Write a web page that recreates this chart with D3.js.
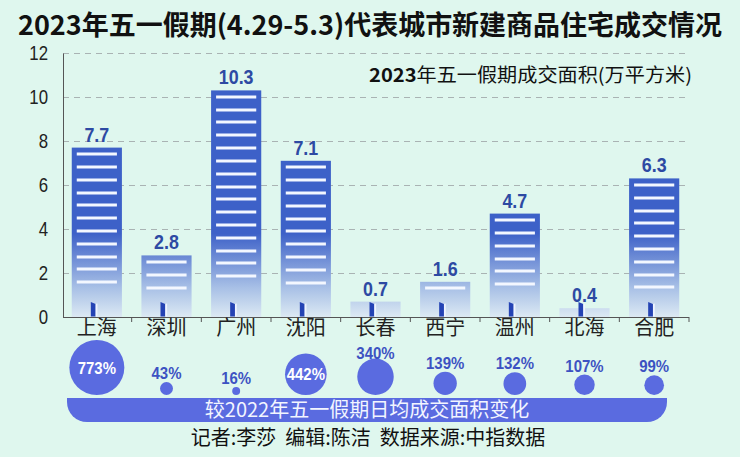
<!DOCTYPE html>
<html><head><meta charset="utf-8">
<script src="https://cdn.jsdelivr.net/npm/d3@7"></script>
<style>
html,body{margin:0;padding:0;background:#dff7ee;}
svg{display:block;}
text{font-family:"Noto Sans CJK SC","Noto Sans",sans-serif;}
.num{font-family:"Liberation Sans",Arial,sans-serif;}
</style></head><body>
<svg id="chart" width="740" height="457"></svg>
<script>
const cities = ["上海","深圳","广州","沈阳","长春","西宁","温州","北海","合肥"];
const area = [7.7, 2.8, 10.3, 7.1, 0.7, 1.6, 4.7, 0.4, 6.3];
const change = [773, 43, 16, 442, 340, 139, 132, 107, 99];
const yTicks = [0, 2, 4, 6, 8, 10, 12];
const title = "2023年五一假期(4.29-5.3)代表城市新建商品住宅成交情况";
const legendYear = "2023";
const legendRest = "年五一假期成交面积(万平方米)";
const bandLabel = "较2022年五一假期日均成交面积变化";
const footer = "记者:李莎\u00a0\u00a0编辑:陈洁\u00a0\u00a0数据来源:中指数据";

const svg = d3.select("#chart");
svg.append("rect").attr("width", 740).attr("height", 457).attr("fill", "#dff7ee");

const x = d3.scaleBand().domain(cities).range([62, 689]).paddingInner(0.28).paddingOuter(0.14);
const y = d3.scaleLinear().domain([0, 12]).range([317, 53]);
const r = d3.scaleSqrt().domain([0, 773]).range([0, 27.5]);
const bw = x.bandwidth();
const cx = d => x(d) + bw / 2;

// squeeze numeric texts horizontally to mimic the condensed face
function condense(sel, k) {
  sel.each(function () {
    const w = this.getComputedTextLength();
    d3.select(this).attr("textLength", w * k).attr("lengthAdjust", "spacingAndGlyphs");
  });
}

const defs = svg.append("defs");
const grad = defs.append("linearGradient").attr("id", "barGrad")
  .attr("gradientUnits", "userSpaceOnUse")
  .attr("x1", 0).attr("x2", 0).attr("y1", y(0)).attr("y2", y(3.8));
grad.append("stop").attr("offset", 0).attr("stop-color", "#dce9f3");
grad.append("stop").attr("offset", 0.35).attr("stop-color", "#a8c0e6");
grad.append("stop").attr("offset", 1).attr("stop-color", "#3d61c8");

// title
svg.append("text").attr("x", 18).attr("y", 35)
  .attr("textLength", 704).attr("lengthAdjust", "spacingAndGlyphs")
  .attr("font-size", 27).attr("font-weight", "bold").attr("fill", "#111")
  .text(title);

// gridlines
svg.append("g").selectAll("line").data(yTicks.filter(d => d > 0)).join("line")
  .attr("x1", 63).attr("x2", 690).attr("y1", d => y(d) + 0.5).attr("y2", d => y(d) + 0.5)
  .attr("stroke", "#a9b3b3").attr("stroke-dasharray", "6,5").attr("stroke-width", 1);

// legend label
const lg = svg.append("text").attr("x", 369).attr("y", 82)
  .attr("textLength", 323).attr("lengthAdjust", "spacingAndGlyphs")
  .attr("font-size", 19).attr("fill", "#111");
lg.append("tspan").attr("font-weight", "bold").text(legendYear);
lg.append("tspan").text(legendRest);

// y axis
const yAxis = svg.append("g").attr("transform", "translate(63,0)")
  .call(d3.axisLeft(y).tickValues(yTicks).tickSize(0).tickPadding(15).tickFormat(d3.format("d")));
yAxis.select(".domain").attr("stroke", "#555");
yAxis.selectAll("text").attr("class", "num").attr("font-size", 21).attr("fill", "#222")
  .call(condense, 0.8);

// bars
const bars = svg.append("g");
bars.selectAll("rect").data(cities).join("rect")
  .attr("x", d => x(d)).attr("width", bw)
  .attr("y", (d, i) => y(area[i])).attr("height", (d, i) => y(0) - y(area[i]))
  .attr("fill", "url(#barGrad)");

// stripes
const stripes = [];
cities.forEach((c, i) => {
  const top = y(area[i]);
  for (let sy = top + 6.5; sy <= 288.5; sy += 12.8) stripes.push({c, sy: Math.round(sy)});
});
bars.append("g").selectAll("rect").data(stripes).join("rect")
  .attr("x", d => x(d.c) + 5).attr("width", bw - 10)
  .attr("y", d => d.sy - 1.5).attr("height", 3).attr("fill", "#f3f7ff");

// doors
const doors = bars.append("g");
doors.selectAll("path.dk").data(cities).join("path").attr("class", "dk")
  .attr("d", d => { const c = cx(d); return `M${c-6},302 L${c-1.2},304 L${c-1.2},316.5 L${c-6},316.5 Z`; })
  .attr("fill", "#2443b4");
doors.selectAll("path.lt").data(cities).join("path").attr("class", "lt")
  .attr("d", d => { const c = cx(d); return `M${c-1.2},304 L${c+0.6},303.6 L${c+0.6},316.5 L${c-1.2},316.5 Z`; })
  .attr("fill", "#eef4ff");

// value labels
svg.append("g").selectAll("text").data(cities).join("text")
  .attr("class", "num")
  .attr("x", d => cx(d)).attr("y", (d, i) => y(area[i]) - 6)
  .attr("text-anchor", "middle").attr("font-size", 21).attr("font-weight", "bold")
  .attr("fill", "#2d4aa3")
  .text((d, i) => area[i].toFixed(1))
  .call(condense, 0.85);

// x axis
const xAxis = svg.append("g").attr("transform", `translate(0,${y(0)})`)
  .call(d3.axisBottom(x).tickSize(0).tickPadding(4).tickSizeOuter(0));
xAxis.select(".domain").attr("stroke", "#555").attr("d", "M63,0.5H689");
xAxis.selectAll("text").attr("font-size", 20).attr("fill", "#222");
svg.append("g").selectAll("line").data(cities).join("line")
  .attr("x1", d => x(d) + bw + x.step() * x.paddingInner() / 2)
  .attr("x2", d => x(d) + bw + x.step() * x.paddingInner() / 2)
  .attr("y1", y(0)).attr("y2", y(0) + 5)
  .attr("stroke", "#555");

// bubbles
const bub = svg.append("g");
bub.selectAll("circle").data(cities).join("circle")
  .attr("cx", d => cx(d)).attr("cy", (d, i) => 395 - r(change[i]))
  .attr("r", (d, i) => r(change[i])).attr("fill", "#5a6be0");
bub.selectAll("text").data(cities).join("text")
  .attr("class", "num")
  .attr("x", d => cx(d))
  .attr("y", (d, i) => change[i] > 400 ? 395 - r(change[i]) + 6 : Math.max(395 - 2 * r(change[i]) - 3, 358.5))
  .attr("text-anchor", "middle").attr("font-size", 17).attr("font-weight", "bold")
  .attr("fill", (d, i) => change[i] > 400 ? "#ffffff" : "#3c52c2")
  .text((d, i) => change[i] + "%")
  .call(condense, 0.88);

// band
svg.append("path")
  .attr("d", "M67,398 H667 V402 A20,20 0 0 1 647,422 H87 A20,20 0 0 1 67,402 Z")
  .attr("fill", "#5a6be0");
svg.append("text").attr("x", 367).attr("y", 417).attr("text-anchor", "middle")
  .attr("font-size", 20).attr("fill", "#f2f5ff").text(bandLabel);

// footer
svg.append("text").attr("x", 368).attr("y", 445).attr("text-anchor", "middle")
  .attr("font-size", 20).attr("fill", "#111").text(footer);
</script>
</body></html>
